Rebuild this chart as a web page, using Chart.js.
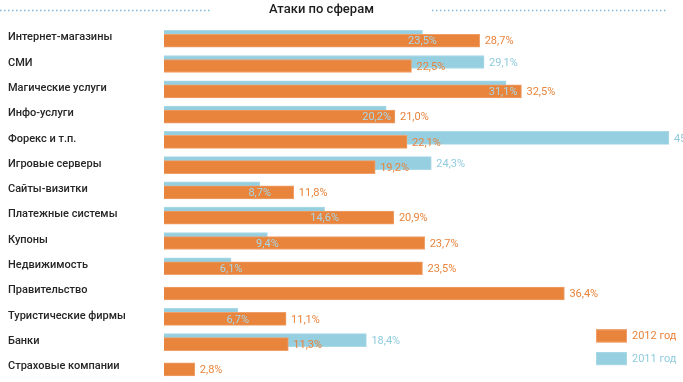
<!DOCTYPE html>
<html>
<head>
<meta charset="utf-8">
<script src="https://cdn.jsdelivr.net/npm/chart.js@4/dist/chart.umd.min.js"></script>
<style>
  html, body { margin: 0; padding: 0; background: #ffffff; }
  #wrap { width: 683px; height: 382px; }
</style>
</head>
<body>
<div id="wrap"><canvas id="c" width="683" height="382"></canvas></div>
<script>
const chartTitle = 'Атаки по сферам';
const categories = [
  'Интернет-магазины', 'СМИ', 'Магические услуги', 'Инфо-услуги', 'Форекс и т.п.',
  'Игровые серверы', 'Сайты-визитки', 'Платежные системы', 'Купоны', 'Недвижимость',
  'Правительство', 'Туристические фирмы', 'Банки', 'Страховые компании'
];
const seriesNames = ['2012 год', '2011 год'];
const values2012 = [28.7, 22.5, 32.5, 21.0, 22.1, 19.2, 11.8, 20.9, 23.7, 23.5, 36.4, 11.1, 11.3, 2.8];
const values2011 = [23.5, 29.1, 31.1, 20.2, 45.9, 24.3, 8.7, 14.6, 9.4, 6.1, null, 6.7, 18.4, null];

const ORANGE = '#E8843C';
const ORANGE_EDGE = '#EFA06A';
const BLUE = '#96CFE0';
const BLUE_EDGE = '#A9D8E6';
const BLUE_TEXT = '#8FCBDD';
const LABEL_FONT = 'Roboto, sans-serif';
const BLUE_SHIFT = 4;

function fmt(v) { return v.toFixed(1).replace('.', ',') + '%'; }

const offsetPlugin = {
  id: 'offset2011',
  beforeDatasetDraw(chart, args) {
    if (args.index === 1) { chart.ctx.save(); chart.ctx.translate(0, -BLUE_SHIFT); }
  },
  afterDatasetDraw(chart, args) {
    if (args.index === 1) chart.ctx.restore();
  }
};

const valueLabels = {
  id: 'valueLabels',
  afterDatasetsDraw(chart) {
    const ctx = chart.ctx;
    const m12 = chart.getDatasetMeta(0).data;
    const m11 = chart.getDatasetMeta(1).data;
    ctx.save();
    ctx.font = '11px ' + LABEL_FONT;
    ctx.textBaseline = 'middle';
    categories.forEach((c, i) => {
      const v12 = values2012[i], v11 = values2011[i];
      const e12 = m12[i], e11 = m11[i];
      if (v11 !== null && v11 !== undefined) {
        const t = fmt(v11);
        if (v11 > v12) {
          ctx.fillStyle = BLUE_TEXT;
          ctx.textAlign = 'left';
          ctx.fillText(t, e11.x + 5, e11.y - BLUE_SHIFT + 1.5);
        } else {
          const w = ctx.measureText(t).width;
          const right = Math.min(e11.x + w / 2, e12.x - 4);
          ctx.fillStyle = '#A8D8E8';
          ctx.textAlign = 'right';
          ctx.fillText(t, right, e12.y + 1);
        }
      }
      ctx.fillStyle = ORANGE;
      ctx.textAlign = 'left';
      ctx.fillText(fmt(v12), e12.x + 5, e12.y + 1);
    });
    ctx.restore();
  }
};

const decorPlugin = {
  id: 'decor',
  afterDraw(chart) {
    const ctx = chart.ctx;
    const tb = chart.titleBlock;
    const topt = chart.options.plugins.title;
    ctx.save();
    // dotted rules beside the title
    ctx.font = topt.font.weight + ' ' + topt.font.size + 'px ' + topt.font.family;
    const tw = ctx.measureText(chartTitle).width;
    const cx = (tb.left + tb.right) / 2;
    const cy = tb.top + topt.padding.top + topt.font.size * 1.2 / 2 + 0.5;
    ctx.strokeStyle = '#7DB9D6';
    ctx.lineWidth = 1.5;
    ctx.setLineDash([1.5, 2.5]);
    ctx.beginPath();
    ctx.moveTo(0, cy); ctx.lineTo(cx - tw / 2 - 58, cy);
    ctx.moveTo(cx + tw / 2 + 58, cy); ctx.lineTo(chart.width - 15, cy);
    ctx.stroke();
    ctx.setLineDash([]);
    // legend (bottom right, inside plot)
    const ca = chart.chartArea;
    const boxW = 31, boxH = 13;
    const x0 = ca.right - 39;
    const items = [
      { text: chart.data.datasets[0].label, fill: ORANGE, edge: ORANGE_EDGE, color: ORANGE },
      { text: chart.data.datasets[1].label, fill: BLUE, edge: BLUE_EDGE, color: BLUE_TEXT }
    ];
    ctx.font = '11px ' + LABEL_FONT;
    ctx.textBaseline = 'middle';
    ctx.textAlign = 'left';
    items.forEach((it, k) => {
      const y0 = ca.bottom - 52.6 + k * 22.7;
      ctx.fillStyle = it.fill;
      ctx.fillRect(x0, y0, boxW, boxH);
      ctx.strokeStyle = it.edge;
      ctx.lineWidth = 1;
      ctx.strokeRect(x0 + 0.5, y0 + 0.5, boxW - 1, boxH - 1);
      ctx.fillStyle = it.color;
      ctx.fillText(it.text, x0 + boxW + 5, y0 + boxH / 2 + 0.5);
    });
    ctx.restore();
  }
};

new Chart(document.getElementById('c'), {
  type: 'bar',
  data: {
    labels: categories,
    datasets: [
      {
        label: seriesNames[0],
        data: values2012,
        backgroundColor: ORANGE,
        borderColor: ORANGE_EDGE,
        borderWidth: 1,
        barThickness: 13,
        grouped: false,
        clip: false
      },
      {
        label: seriesNames[1],
        data: values2011,
        backgroundColor: BLUE,
        borderColor: BLUE_EDGE,
        borderWidth: 1,
        barThickness: 13,
        grouped: false,
        clip: false
      }
    ]
  },
  options: {
    indexAxis: 'y',
    responsive: false,
    animation: false,
    devicePixelRatio: 1,
    layout: { padding: { left: 8, right: 48, top: 0, bottom: 0 } },
    plugins: {
      legend: { display: false },
      tooltip: { enabled: false },
      title: {
        display: true,
        text: chartTitle,
        color: '#1e1e1e',
        font: { family: 'Roboto, sans-serif', size: 13, weight: '500' },
        padding: { top: 2.2, bottom: 10.3 }
      }
    },
    scales: {
      x: {
        display: false,
        min: 0,
        max: 42.82
      },
      y: {
        border: { display: false },
        grid: { display: false, drawTicks: false },
        ticks: {
          crossAlign: 'far',
          color: '#262626',
          labelOffset: -3,
          padding: 0,
          font: { family: 'Roboto, sans-serif', size: 11, weight: '500' }
        },
        afterFit(scale) {
          scale.width = 156;
          scale.paddingTop = 0;
          scale.paddingBottom = 0;
        }
      }
    }
  },
  plugins: [offsetPlugin, valueLabels, decorPlugin]
});
</script>
</body>
</html>
